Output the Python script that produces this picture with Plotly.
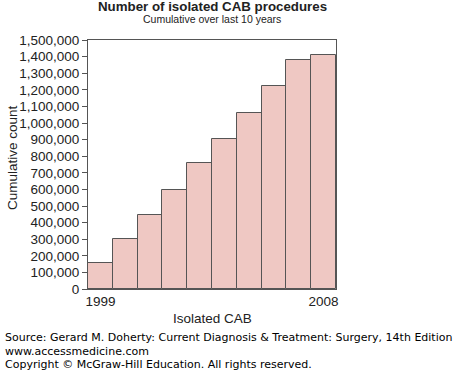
import plotly.graph_objects as go

years = [1999, 2000, 2001, 2002, 2003, 2004, 2005, 2006, 2007, 2008]
cumulative = [157000, 301000, 448000, 594000, 757000, 904000, 1060000, 1220000, 1379000, 1410000]
y_ticks = list(range(0, 1500001, 100000))
x_tick_vals = [1999, 2008]
x_tick_text = ["1999", "2008"]

W, H = 465, 371
L, R, T, B = 88, 129, 40, 82
plot_w = W - L - R
plot_h = H - T - B

def py(ypx):
    return (H - B - ypx) / plot_h

def px(xpx):
    return (xpx - L) / plot_w

fig = go.Figure(go.Bar(
    x=years, y=cumulative,
    marker=dict(color="#EFC8C3", line=dict(color="#555555", width=1)),
))

font = "Liberation Sans, Arial, sans-serif"

fig.update_layout(
    width=W, height=H,
    margin=dict(l=L, r=R, t=T, b=B, autoexpand=False),
    paper_bgcolor="white", plot_bgcolor="white",
    bargap=0, showlegend=False,
    font=dict(family=font, size=13, color="#222222"),
    xaxis=dict(
        range=[1998.5, 2008.5], tickvals=x_tick_vals, ticktext=x_tick_text,
        showline=True, mirror=True, linecolor="#555555", linewidth=1,
        showgrid=False, zeroline=False, ticks="", tickfont=dict(size=13.5),
        automargin=False,
    ),
    yaxis=dict(
        range=[0, 1500000], tickvals=y_ticks,
        ticktext=[f"{v:,}" for v in y_ticks],
        showline=True, mirror=True, linecolor="#555555", linewidth=1,
        showgrid=False, zeroline=False, ticks="outside", ticklen=5,
        tickcolor="#555555", tickfont=dict(size=13.5), automargin=False,
    ),
)

ann = [
    dict(text="<b>Number of isolated CAB procedures</b>", x=0.5, y=py(6.5), size=13.3),
    dict(text="Cumulative over last 10 years", x=0.5, y=py(19), size=10.5),
    dict(text="Isolated CAB", x=0.5, y=py(318), size=13.5),
]
for a in ann:
    fig.add_annotation(text=a["text"], x=a["x"], y=a["y"], xref="paper", yref="paper",
                       showarrow=False, xanchor="center", yanchor="middle",
                       font=dict(size=a["size"], family=font, color="#222222"))

fig.add_annotation(text="Cumulative count", x=px(12), y=py(158), xref="paper", yref="paper",
                   showarrow=False, textangle=-90, xanchor="center", yanchor="middle",
                   font=dict(size=13.5, family=font, color="#222222"))

src_font = "DejaVu Sans, Verdana, sans-serif"
src_lines = [
    ("Source: Gerard M. Doherty: Current Diagnosis &amp; Treatment: Surgery, 14th Edition", 337),
    ("www.accessmedicine.com", 351),
    ("Copyright © McGraw-Hill Education. All rights reserved.", 364.5),
]
for txt, ypx in src_lines:
    fig.add_annotation(text=txt, x=px(3), y=py(ypx), xref="paper", yref="paper",
                       showarrow=False, xanchor="left", yanchor="middle",
                       font=dict(size=11, family=src_font, color="#000000"))

fig.write_html("out.html",
               config={"displayModeBar": False},
               post_script="document.body.style.margin='0';document.body.style.overflow='hidden';")
